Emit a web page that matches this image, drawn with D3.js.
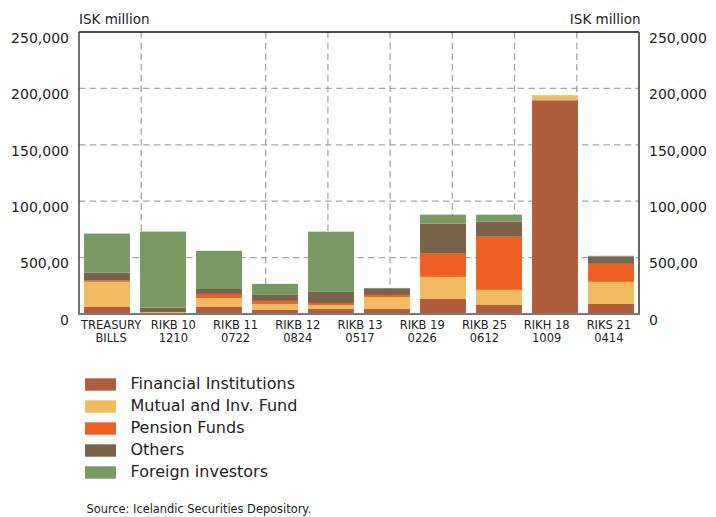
<!DOCTYPE html>
<html>
<head>
<meta charset="utf-8">
<script src="https://cdn.jsdelivr.net/npm/d3@7/dist/d3.min.js"></script>
<style>
  html, body { margin: 0; padding: 0; background: #fff; }
  svg { display: block; font-family: "DejaVu Sans", sans-serif; }
</style>
</head>
<body>
<svg id="chart" width="716" height="517"></svg>
<script>
// ---- Data (ISK million) ----
const tickCategories = ["TREASURY BILLS", "RIKB 10 1210", "RIKB 11 0722", "RIKB 12 0824", "RIKB 13 0517", "RIKB 19 0226", "RIKB 25 0612", "RIKH 18 1009", "RIKS 21 0414"];
const tickLines = [["TREASURY", "BILLS"], ["RIKB 10", "1210"], ["RIKB 11", "0722"], ["RIKB 12", "0824"], ["RIKB 13", "0517"], ["RIKB 19", "0226"], ["RIKB 25", "0612"], ["RIKH 18", "1009"], ["RIKS 21", "0414"]];
const barIds = ["bar1", "bar2", "bar3", "bar4", "bar5", "bar6", "bar7", "bar8", "bar9", "bar10"];
const financialInstitutions = [6200, 300, 6200, 3600, 4400, 4400, 13300, 8000, 189500, 8900];
const mutualInvFund        = [22300, 1200, 8000, 5300, 3600, 10700, 19600, 13400, 4500, 19600];
const pensionFunds         = [1000, 300, 3600, 2700, 1800, 1800, 20500, 47100, 0, 16000];
const others               = [7100, 3900, 4400, 5300, 9800, 5300, 26700, 13400, 0, 6200];
const foreignInvestors     = [34700, 67400, 33800, 9800, 53400, 900, 8000, 6200, 0, 900];
const seriesNames = ["Financial Institutions", "Mutual and Inv. Fund", "Pension Funds", "Others", "Foreign investors"];
const seriesColors = ["#b05d3d", "#f3bb5f", "#f05f22", "#7a6249", "#789a62"];
const yTicks = [0, 50000, 100000, 150000, 200000, 250000];
const yTickLabels = ["0", "500,00", "100,000", "150,000", "200,000", "250,000"];
const verticalGridBoundaries = [1, 3, 4, 5, 6, 7, 8];
const unitLabel = "ISK million";
const sourceText = "Source: Icelandic Securities Depository.";

(function () {
// ---- Build table ----
const seriesArrays = [financialInstitutions, mutualInvFund, pensionFunds, others, foreignInvestors];
const table = barIds.map((id, i) => {
  const row = { id };
  seriesNames.forEach((s, k) => row[s] = seriesArrays[k][i]);
  return row;
});
const stacked = d3.stack().keys(seriesNames)(table);

// ---- Layout ----
const mLeft = 79, mRight = 639, mTop = 32, mBottom = 314;
const svg = d3.select("#chart");
const y = d3.scaleLinear().domain([0, 250000]).range([mBottom, mTop]);
const xBar = d3.scaleBand().domain(barIds).range([mLeft, mRight]).paddingInner(0.18).paddingOuter(0.09);
const xCat = d3.scaleBand().domain(tickCategories).range([mLeft, mRight]).padding(0);

// gridlines
const grid = svg.append("g");
grid.selectAll("line.h").data(yTicks.filter(t => t > 0 && t < 250000)).join("line")
  .attr("x1", mLeft).attr("x2", mRight)
  .attr("y1", d => y(d)).attr("y2", d => y(d))
  .attr("stroke", "#a6a6a6").attr("stroke-width", 1.3).attr("stroke-dasharray", "6.5,4.2");
grid.selectAll("line.v").data(verticalGridBoundaries).join("line")
  .attr("x1", d => xCat(tickCategories[d])).attr("x2", d => xCat(tickCategories[d]))
  .attr("y1", mTop).attr("y2", mBottom)
  .attr("stroke", "#a6a6a6").attr("stroke-width", 1.3).attr("stroke-dasharray", "6.5,4.2");

// bars
svg.append("g").selectAll("g").data(stacked).join("g")
  .attr("fill", (d, i) => seriesColors[i])
  .selectAll("rect").data(d => d).join("rect")
  .attr("x", d => xBar(d.data.id))
  .attr("width", xBar.bandwidth())
  .attr("y", d => y(d[1]))
  .attr("height", d => Math.max(0, y(d[0]) - y(d[1])));

// frame
svg.append("line").attr("x1", mLeft).attr("x2", mRight).attr("y1", mTop).attr("y2", mTop)
  .attr("stroke", "#111").attr("stroke-width", 1.5);
svg.append("line").attr("x1", mLeft).attr("x2", mLeft).attr("y1", mTop).attr("y2", mBottom + 1)
  .attr("stroke", "#444").attr("stroke-width", 1.5);
svg.append("line").attr("x1", mRight).attr("x2", mRight).attr("y1", mTop).attr("y2", mBottom + 1)
  .attr("stroke", "#555").attr("stroke-width", 1.8);
svg.append("line").attr("x1", mLeft).attr("x2", mRight + 1).attr("y1", mBottom).attr("y2", mBottom)
  .attr("stroke", "#7a7a7a").attr("stroke-width", 2);

// y axes via d3.axis
const yAxisL = d3.axisLeft(y).tickValues(yTicks).tickSize(0).tickPadding(10)
  .tickFormat((d, i) => yTickLabels[i]);
const gL = svg.append("g").attr("transform", `translate(${mLeft},0)`).call(yAxisL);
const yAxisR = d3.axisRight(y).tickValues(yTicks).tickSize(0).tickPadding(10)
  .tickFormat((d, i) => yTickLabels[i]);
const gR = svg.append("g").attr("transform", `translate(${mRight},0)`).call(yAxisR);
[gL, gR].forEach(g => {
  g.select(".domain").remove();
  g.selectAll("text").attr("font-family", "DejaVu Sans").attr("font-size", 14)
    .attr("fill", "#222").attr("dy", "0.73em");
});

// unit labels
svg.append("text").attr("x", mLeft).attr("y", 24).attr("font-size", 13.5).attr("fill", "#222").text(unitLabel);
svg.append("text").attr("x", mRight + 1.5).attr("y", 24).attr("text-anchor", "end").attr("font-size", 13.5).attr("fill", "#222").text(unitLabel);

// x category labels
const xg = svg.append("g");
tickCategories.forEach((c, i) => {
  const cx = xCat(c) + xCat.bandwidth() / 2 + 1;
  tickLines[i].forEach((ln, j) => {
    xg.append("text").attr("x", cx).attr("y", 329 + j * 12.7)
      .attr("text-anchor", "middle").attr("font-size", 11.5).attr("fill", "#222").text(ln);
  });
});

// legend
const lg = svg.append("g");
seriesNames.forEach((s, i) => {
  lg.append("rect").attr("x", 85).attr("y", 378.3 + i * 22).attr("width", 31).attr("height", 12.4).attr("fill", seriesColors[i]);
  lg.append("text").attr("x", 130.5).attr("y", 388.6 + i * 22).attr("font-size", 16).attr("fill", "#222").text(s);
});

// source
svg.append("text").attr("x", 86.5).attr("y", 513.3).attr("font-size", 11.4).attr("fill", "#222").text(sourceText);
})();
</script>
</body>
</html>
